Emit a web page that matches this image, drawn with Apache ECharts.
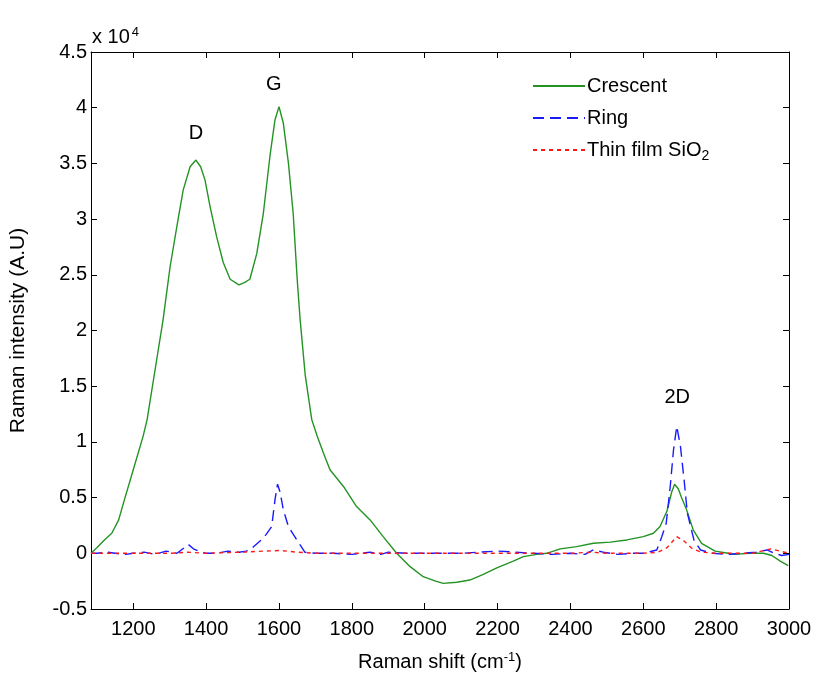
<!DOCTYPE html>
<html>
<head>
<meta charset="utf-8">
<script src="https://cdn.jsdelivr.net/npm/echarts@6/dist/echarts.min.js"></script>
<style>
  html, body { margin: 0; padding: 0; background: #fff; }
  #chart { width: 820px; height: 679px; }
</style>
</head>
<body>
<div id="chart"></div>
<script>
// Raman spectra (intensity in counts, A.U.)
const crescentShift = [1084, 1100, 1118, 1141, 1160, 1173, 1200, 1227, 1238, 1260, 1282, 1301, 1321, 1337, 1356, 1372, 1385, 1397, 1411, 1429, 1447, 1466, 1490, 1505, 1520, 1539, 1557, 1575, 1589, 1600, 1612, 1626, 1639, 1650, 1658, 1672, 1690, 1705, 1722, 1740, 1777, 1813, 1850, 1886, 1923, 1960, 1996, 2030, 2051, 2088, 2124, 2161, 2198, 2243, 2271, 2307, 2335, 2372, 2417, 2463, 2509, 2555, 2600, 2628, 2646, 2665, 2678, 2686, 2696, 2705, 2719, 2737, 2760, 2797, 2833, 2848, 2893, 2930, 2953, 2976, 2998];
const crescentIntensity = [0, 500, 1100, 1800, 3000, 4500, 7500, 10500, 12000, 16500, 21000, 25700, 29600, 32600, 34700, 35300, 34700, 33500, 31100, 28400, 26100, 24600, 24100, 24300, 24600, 26900, 30500, 35600, 38900, 40100, 38600, 35000, 30500, 24600, 21000, 16000, 12000, 10500, 9000, 7500, 6000, 4200, 3000, 1500, 0, -1200, -2100, -2500, -2700, -2600, -2400, -1900, -1300, -700, -300, -100, 0, 400, 600, 900, 1000, 1200, 1500, 1800, 2400, 3800, 5500, 6200, 5800, 5000, 3900, 2100, 900, 200, 0, -100, 0, 0, -200, -700, -1100];

const ringShift = [1084, 1100, 1130, 1150, 1180, 1200, 1230, 1260, 1290, 1320, 1340, 1351, 1365, 1380, 1400, 1430, 1460, 1490, 1510, 1520, 1548, 1565, 1580, 1589, 1596, 1603, 1612, 1626, 1649, 1671, 1700, 1750, 1800, 1850, 1880, 1900, 1950, 2000, 2100, 2200, 2250, 2300, 2350, 2400, 2440, 2463, 2490, 2530, 2570, 2600, 2637, 2651, 2663, 2674, 2683, 2692, 2702, 2712, 2721, 2739, 2757, 2790, 2830, 2870, 2910, 2940, 2960, 2980, 3000];
const ringIntensity = [0, 0, 100, 0, -100, 0, 100, -100, 200, 0, 500, 800, 400, 200, 0, 0, 200, 100, 200, 300, 1100, 1700, 2400, 4800, 6200, 5500, 3900, 2400, 1200, 100, 0, 0, -100, 100, -100, 100, 0, 0, 0, 200, 100, 0, -100, 0, -100, 300, 100, -100, 0, 0, 300, 1500, 2700, 6000, 9300, 11400, 9600, 6600, 3600, 1200, 300, 0, -100, 0, 100, 300, 0, -200, -100];

const filmShift = [1084, 1200, 1300, 1350, 1400, 1500, 1560, 1603, 1650, 1700, 1800, 1900, 2000, 2200, 2400, 2460, 2500, 2600, 2640, 2665, 2692, 2712, 2735, 2760, 2800, 2900, 2950, 2975, 3000];
const filmIntensity = [0, 0, 0, 100, 0, 100, 200, 250, 100, 0, 0, 0, 0, 0, 0, 100, 0, 0, 100, 500, 1500, 1100, 400, 100, 0, 0, 400, 200, 0];

const seriesNames = ['Crescent', 'Ring', 'Thin film SiO2'];
const peakNames = ['D', 'G', '2D'];
const xTickValues = [1200, 1400, 1600, 1800, 2000, 2200, 2400, 2600, 2800, 3000];

const FONT = '"Liberation Sans", Arial, sans-serif';
const pairs = (xs, ys) => xs.map((x, i) => [x, ys[i]]);

const chart = echarts.init(document.getElementById('chart'), null, { renderer: 'canvas' });

const xBase = {
  type: 'value', min: 1084, max: 3000,
  splitLine: { show: false },
  axisLine: { show: true, onZero: false, lineStyle: { color: '#000', width: 1 } },
  axisTick: { show: true, inside: true, length: 6, customValues: xTickValues, lineStyle: { color: '#000' } }
};
const yBase = {
  type: 'value', min: -5000, max: 45000, interval: 5000,
  splitLine: { show: false },
  axisLine: { show: true, onZero: false, lineStyle: { color: '#000', width: 1 } },
  axisTick: { show: true, inside: true, length: 6, lineStyle: { color: '#000' } }
};

chart.setOption({
  animation: false,
  backgroundColor: '#fff',
  grid: { left: 91, top: 52, width: 698, height: 557 },
  xAxis: [
    Object.assign({}, xBase, {
      position: 'bottom',
      name: 'Raman shift (cm{sup|-1})',
      nameLocation: 'middle', nameGap: 42,
      nameTextStyle: {
        color: '#000', fontFamily: FONT, fontSize: 20,
        rich: { sup: { fontSize: 13, verticalAlign: 'top', fontFamily: FONT, color: '#000', padding: [0, 0, 10, 0] } }
      },
      axisLabel: {
        show: true, customValues: xTickValues, color: '#000', fontFamily: FONT, fontSize: 20, margin: 10,
        formatter: v => String(v)
      }
    }),
    Object.assign({}, xBase, { position: 'top', axisLabel: { show: false } })
  ],
  yAxis: [
    Object.assign({}, yBase, {
      position: 'left',
      name: 'Raman intensity (A.U)',
      nameLocation: 'middle', nameGap: 62,
      nameTextStyle: { color: '#000', fontFamily: FONT, fontSize: 21 },
      axisLabel: {
        color: '#000', fontFamily: FONT, fontSize: 20, margin: 4,
        formatter: v => String(Math.round(v / 1000) / 10)
      }
    }),
    Object.assign({}, yBase, { position: 'right', axisLabel: { show: false } })
  ],
  legend: {
    data: seriesNames,
    orient: 'vertical', left: 527, top: 71,
    itemWidth: 52, itemHeight: 14, itemGap: 12,
    itemStyle: { opacity: 0 },
    formatter: n => n === 'Thin film SiO2' ? 'Thin film SiO{sub|2}' : n,
    textStyle: {
      color: '#000', fontFamily: FONT, fontSize: 20, padding: [0, 0, 0, -3],
      rich: { sub: { fontSize: 14, fontFamily: FONT, color: '#000', verticalAlign: 'bottom', padding: [12, 0, 0, 0] } }
    }
  },
  graphic: [{
    type: 'text', left: 92, top: 26,
    style: {
      text: 'x 10{sup|4}', fill: '#000', font: '20px ' + FONT,
      rich: { sup: { fontSize: 13, fontFamily: FONT, fill: '#000', verticalAlign: 'top', padding: [0, 0, 10, 2] } }
    }
  }],
  series: [
    {
      name: seriesNames[0], type: 'line', symbol: 'none', smooth: false,
      data: pairs(crescentShift, crescentIntensity),
      lineStyle: { color: '#239323', width: 1.4 }, itemStyle: { color: '#239323' },
      markPoint: {
        symbol: 'circle', symbolSize: 0, silent: true,
        label: { show: true, position: 'inside', formatter: '{b}', color: '#000', fontFamily: FONT, fontSize: 20 },
        data: [
          { name: peakNames[0], coord: [1372, 37700] },
          { name: peakNames[1], coord: [1586, 42100] },
          { name: peakNames[2], coord: [2693, 14000] }
        ]
      }
    },
    {
      name: seriesNames[1], type: 'line', symbol: 'none', smooth: false,
      data: pairs(ringShift, ringIntensity),
      lineStyle: { color: '#1a1aff', width: 1.4, type: [11, 6] }, itemStyle: { color: '#1a1aff' }
    },
    {
      name: seriesNames[2], type: 'line', symbol: 'none', smooth: false,
      data: pairs(filmShift, filmIntensity),
      lineStyle: { color: '#ff1a1a', width: 1.4, type: [4, 4] }, itemStyle: { color: '#ff1a1a' }
    }
  ]
});
</script>
</body>
</html>
